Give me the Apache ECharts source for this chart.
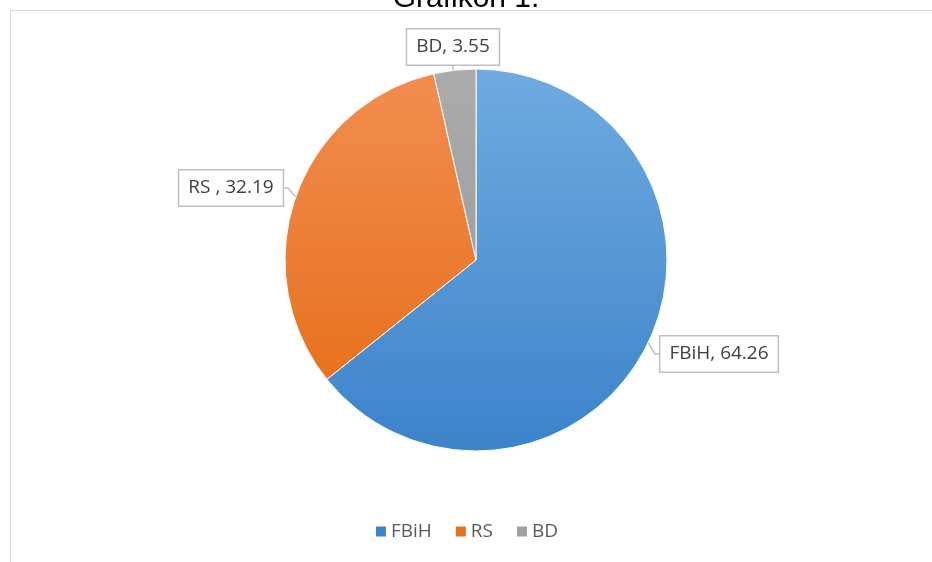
<!DOCTYPE html>
<html>
<head>
<meta charset="utf-8">
<script src="https://cdn.jsdelivr.net/npm/echarts@6/dist/echarts.min.js"></script>
<style>
  html, body { margin: 0; padding: 0; background: #ffffff; }
  #chart { width: 932px; height: 562px; }
</style>
</head>
<body>
<div id="chart"></div>
<script>
// Regions and their shares (%)
const categories = ['FBiH', 'RS', 'BD'];
const shares = [64.26, 32.19, 3.55];

const palette = [
  ['#70AAE0', '#3C83CA'],
  ['#F28D50', '#E7721E'],
  ['#ABABAB', '#A0A0A0']
];

// Callout box centres, in pixels
const calloutAt = [[719, 354], [231, 188], [453, 47]];

const chart = echarts.init(document.getElementById('chart'));

const data = categories.map((name, i) => ({
  name: name,
  value: shares[i],
  itemStyle: {
    color: new echarts.graphic.LinearGradient(0, 0, 0, 1, [
      { offset: 0, color: palette[i][0] },
      { offset: 1, color: palette[i][1] }
    ])
  }
}));

chart.setOption({
  animation: false,
  backgroundColor: '#ffffff',
  title: {
    text: 'Grafikon 1.',
    left: 'center',
    top: -21,
    textStyle: { fontFamily: 'Liberation Sans', fontSize: 30, fontWeight: 'normal', color: '#000000' }
  },
  graphic: [{
    type: 'rect',
    shape: { x: 10.5, y: 10.5, width: 940, height: 600 },
    style: { fill: 'none', stroke: '#D9D9D9', lineWidth: 1 },
    silent: true
  }],
  legend: {
    bottom: 16,
    left: 'center',
    itemWidth: 12,
    itemHeight: 12,
    itemGap: 22,
    icon: 'rect',
    textStyle: { fontFamily: 'Open Sans', fontSize: 19, color: '#595959', padding: [0, 0, 0, -1] },
    data: categories.map((n, i) => ({ name: n, itemStyle: { color: palette[i][1] } }))
  },
  series: [{
    type: 'pie',
    center: [476, 260],
    radius: 191,
    startAngle: 90,
    clockwise: true,
    data: data,
    itemStyle: { borderColor: '#ffffff', borderWidth: 1 },
    label: {
      show: true,
      position: 'outside',
      formatter: p => (p.name === 'RS' ? 'RS , ' : p.name + ', ') + p.value.toFixed(2),
      fontFamily: 'Open Sans',
      fontSize: 19,
      color: '#404040',
      backgroundColor: '#ffffff',
      borderColor: '#BFBFBF',
      borderWidth: 1.5,
      padding: [8, 9, 8, 9]
    },
    labelLine: { show: true, length: 6, length2: 4, lineStyle: { color: '#BFBFBF', width: 1.5 } },
    labelLayout: p => ({
      x: calloutAt[p.dataIndex][0],
      y: calloutAt[p.dataIndex][1],
      align: 'center',
      verticalAlign: 'middle'
    })
  }]
});
</script>
</body>
</html>
